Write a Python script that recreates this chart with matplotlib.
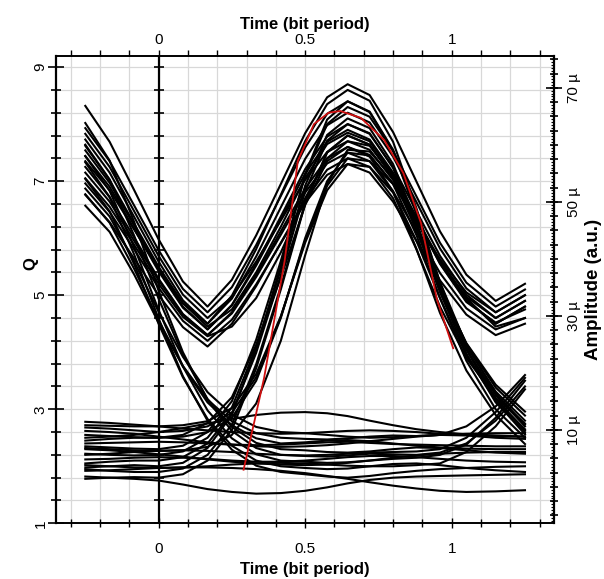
import numpy as np
import matplotlib
import matplotlib.pyplot as plt
import matplotlib.ticker as mticker
import matplotlib.transforms as mtransforms
matplotlib.use('Agg')

plt.rcParams['font.family'] = ['Liberation Sans', 'DejaVu Sans']

# sample times (bit period), shared by every black trace
t_grid = [-0.25, -0.167, -0.083, 0.0, 0.083, 0.167, 0.25, 0.333, 0.417, 0.5,
          0.575, 0.645, 0.72, 0.80, 0.88, 0.96, 1.05, 1.15, 1.25]

ones_111 = [
    [8.32, 7.69, 6.84, 5.98, 5.24, 4.80, 5.27, 6.05, 6.95, 7.84, 8.47, 8.70, 8.51, 7.86, 6.99, 6.12, 5.36, 4.90, 5.20],
    [7.73, 7.15, 6.37, 5.59, 4.91, 4.50, 4.94, 5.68, 6.54, 7.39, 7.98, 8.20, 8.03, 7.43, 6.63, 5.82, 5.12, 4.70, 5.00],
    [7.44, 6.90, 6.16, 5.42, 4.78, 4.40, 4.82, 5.52, 6.33, 7.13, 7.69, 7.90, 7.73, 7.15, 6.37, 5.59, 4.91, 4.50, 4.80],
    [7.15, 6.64, 5.95, 5.26, 4.66, 4.30, 4.68, 5.32, 6.06, 6.80, 7.31, 7.50, 7.35, 6.82, 6.11, 5.39, 4.77, 4.40, 4.60],
    [6.96, 6.46, 5.80, 5.13, 4.55, 4.20, 4.57, 5.19, 5.91, 6.62, 7.11, 7.30, 7.15, 6.64, 5.95, 5.26, 4.66, 4.30, 4.50],
    [7.83, 7.25, 6.47, 5.69, 5.01, 4.60, 4.97, 5.59, 6.31, 7.02, 7.51, 7.70, 7.55, 7.02, 6.31, 5.59, 4.97, 4.60, 4.90],
    [7.62, 7.02, 6.25, 5.50, 4.86, 4.45, 4.75, 5.40, 6.20, 7.05, 7.65, 7.85, 7.70, 7.12, 6.34, 5.55, 4.88, 4.52, 4.75],
]
ones_110 = [
    [7.93, 7.35, 6.57, 5.79, 5.11, 4.70, 5.14, 5.88, 6.74, 7.59, 8.18, 8.40, 8.21, 7.53, 6.42, 5.18, 4.06, 3.19, 2.63],
    [7.54, 6.97, 6.22, 5.46, 4.80, 4.40, 4.83, 5.55, 6.38, 7.21, 7.78, 8.00, 7.84, 7.23, 6.24, 5.14, 4.15, 3.38, 2.89],
    [7.25, 6.72, 6.01, 5.29, 4.67, 4.30, 4.70, 5.36, 6.12, 6.87, 7.40, 7.60, 7.43, 6.82, 5.81, 4.69, 3.68, 2.90, 2.39],
    [6.76, 6.28, 5.64, 5.00, 4.44, 4.10, 4.50, 5.16, 5.92, 6.67, 7.20, 7.40, 7.25, 6.70, 5.80, 4.80, 3.90, 3.20, 2.75],
    [7.35, 6.84, 6.15, 5.46, 4.86, 4.50, 4.99, 5.81, 6.76, 7.70, 8.35, 8.60, 8.41, 7.69, 6.52, 5.22, 4.05, 3.14, 2.56],
    [7.05, 6.55, 5.88, 5.20, 4.62, 4.28, 4.45, 4.95, 5.75, 6.70, 7.40, 7.70, 7.62, 7.10, 6.20, 5.10, 4.05, 3.25, 2.70],
]
ones_10x = [
    [7.64, 7.03, 6.04, 4.94, 3.95, 3.18, 2.69, 2.41, 2.30, 2.28, 2.25, 2.24, 2.26, 2.30, 2.33, 2.32, 2.28, 2.24, 2.22],
    [7.04, 6.47, 5.54, 4.50, 3.56, 2.83, 2.36, 2.10, 2.00, 1.97, 1.95, 1.96, 2.00, 2.04, 2.05, 2.02, 1.97, 1.93, 1.90],
    [6.57, 6.11, 5.36, 4.52, 3.76, 3.17, 2.79, 2.58, 2.50, 2.48, 2.47, 2.49, 2.52, 2.54, 2.53, 2.55, 2.70, 3.05, 3.60],
    [8.02, 7.36, 6.28, 5.08, 4.00, 3.16, 2.62, 2.32, 2.20, 2.18, 2.17, 2.19, 2.22, 2.21, 2.20, 2.24, 2.40, 2.80, 3.40],
    [6.87, 6.38, 5.59, 4.71, 3.92, 3.30, 2.91, 2.69, 2.60, 2.58, 2.55, 2.52, 2.50, 2.51, 2.53, 2.55, 2.54, 2.50, 2.48],
    [7.33, 6.72, 5.71, 4.59, 3.58, 2.80, 2.29, 2.01, 1.90, 1.86, 1.82, 1.80, 1.83, 1.88, 1.92, 1.95, 1.97, 1.99, 2.00],
    [6.77, 6.27, 5.46, 4.56, 3.75, 3.12, 2.72, 2.49, 2.40, 2.42, 2.45, 2.46, 2.44, 2.40, 2.36, 2.33, 2.31, 2.30, 2.30],
    [7.44, 6.83, 5.84, 4.74, 3.75, 2.98, 2.49, 2.21, 2.10, 2.08, 2.06, 2.07, 2.10, 2.13, 2.15, 2.20, 2.38, 2.85, 3.50],
]

# traces that start on a "0"
zeros_011 = [
    [2.35, 2.33, 2.31, 2.30, 2.36, 2.60, 3.14, 4.22, 5.60, 7.10, 8.00, 8.30, 8.13, 7.53, 6.73, 5.92, 5.22, 4.80, 5.10],
    [1.95, 1.92, 1.90, 1.90, 1.96, 2.20, 2.73, 3.79, 5.15, 6.62, 7.51, 7.80, 7.64, 7.07, 6.32, 5.56, 4.90, 4.50, 4.80],
    [2.68, 2.66, 2.63, 2.60, 2.62, 2.70, 2.94, 3.56, 4.62, 5.96, 6.92, 7.40, 7.35, 6.95, 6.30, 5.60, 4.95, 4.45, 4.60],
    [2.05, 2.08, 2.10, 2.10, 2.16, 2.40, 2.93, 3.99, 5.35, 6.82, 7.71, 8.00, 7.83, 7.25, 6.47, 5.69, 5.01, 4.60, 4.90],
    [2.45, 2.48, 2.50, 2.50, 2.55, 2.76, 3.21, 4.13, 5.31, 6.58, 7.35, 7.60, 7.46, 6.96, 6.30, 5.63, 5.05, 4.70, 5.00],
]
zeros_010 = [
    [2.22, 2.20, 2.19, 2.20, 2.26, 2.50, 3.03, 4.09, 5.45, 6.92, 7.81, 8.10, 7.93, 7.30, 6.28, 5.14, 4.11, 3.31, 2.80],
    [2.55, 2.53, 2.51, 2.50, 2.52, 2.60, 2.85, 3.50, 4.60, 6.00, 7.00, 7.50, 7.45, 6.95, 6.05, 4.95, 3.85, 3.00, 2.50],
    [1.78, 1.80, 1.81, 1.80, 1.86, 2.10, 2.64, 3.72, 5.10, 6.60, 7.50, 7.80, 7.64, 7.07, 6.14, 5.10, 4.16, 3.43, 2.96],
    [2.72, 2.71, 2.70, 2.70, 2.72, 2.79, 3.02, 3.62, 4.63, 5.92, 6.84, 7.30, 7.25, 6.80, 5.95, 4.95, 3.95, 3.15, 2.65],
    [1.98, 2.00, 2.02, 2.00, 2.06, 2.32, 2.90, 4.05, 5.52, 7.12, 8.08, 8.40, 8.22, 7.55, 6.45, 5.23, 4.13, 3.28, 2.73],
    [2.32, 2.30, 2.28, 2.27, 2.28, 2.34, 2.55, 3.10, 4.20, 5.70, 6.95, 7.55, 7.52, 7.05, 6.15, 5.05, 3.98, 3.12, 2.60],
]
zeros_00x = [
    [2.40, 2.41, 2.42, 2.43, 2.42, 2.40, 2.38, 2.37, 2.38, 2.40, 2.42, 2.43, 2.41, 2.39, 2.38, 2.37, 2.36, 2.35, 2.35],
    [2.02, 2.00, 1.98, 1.97, 1.98, 2.00, 2.03, 2.05, 2.06, 2.05, 2.03, 2.01, 2.00, 2.00, 2.02, 2.05, 2.25, 2.70, 3.35],
    [2.78, 2.76, 2.73, 2.70, 2.66, 2.63, 2.60, 2.58, 2.57, 2.58, 2.60, 2.62, 2.63, 2.62, 2.60, 2.57, 2.55, 2.53, 2.52],
    [1.82, 1.80, 1.78, 1.75, 1.68, 1.60, 1.55, 1.52, 1.53, 1.57, 1.63, 1.70, 1.76, 1.80, 1.82, 1.83, 1.84, 1.85, 1.86],
    [2.20, 2.22, 2.25, 2.27, 2.28, 2.27, 2.25, 2.22, 2.20, 2.19, 2.20, 2.22, 2.24, 2.25, 2.26, 2.30, 2.50, 2.95, 3.55],
    [2.62, 2.60, 2.57, 2.52, 2.47, 2.42, 2.38, 2.35, 2.34, 2.35, 2.37, 2.40, 2.44, 2.48, 2.52, 2.55, 2.57, 2.58, 2.58],
    [1.92, 1.93, 1.95, 1.97, 1.98, 1.98, 1.97, 1.95, 1.92, 1.88, 1.83, 1.78, 1.72, 1.66, 1.61, 1.57, 1.55, 1.56, 1.58],
    [2.50, 2.52, 2.55, 2.60, 2.67, 2.75, 2.83, 2.90, 2.94, 2.95, 2.93, 2.88, 2.80, 2.72, 2.65, 2.60, 2.56, 2.54, 2.52],
    [2.12, 2.13, 2.15, 2.16, 2.15, 2.13, 2.10, 2.08, 2.08, 2.10, 2.13, 2.16, 2.18, 2.18, 2.16, 2.13, 2.10, 2.08, 2.07],
    [2.30, 2.28, 2.25, 2.21, 2.17, 2.12, 2.08, 2.05, 2.03, 2.02, 2.03, 2.06, 2.10, 2.15, 2.19, 2.22, 2.24, 2.25, 2.25],
]

# red Q-factor curve
red_t = [0.29, 0.36, 0.43, 0.475, 0.53, 0.58, 0.62, 0.69, 0.77, 0.835, 0.895, 0.95, 1.005]
red_q = [1.94, 3.55, 5.6, 7.35, 8.0, 8.2, 8.23, 8.11, 7.72, 7.14, 6.27, 4.92, 4.07]

# axis ticks
q_major = [1, 3, 5, 7, 9]
q_minor = np.arange(1, 9.01, 0.4)
t_major = [0, 0.5, 1]
t_minor = np.arange(-0.3, 1.31, 0.1)
amp_major = [10, 30, 50, 70]
amp_mid = np.arange(-5, 75.1, 2.5)
amp_fine = np.arange(-6, 75.6, 0.5)
# Q -> amplitude (micro) is linear: amp = 10*Q - 16.37
amp_lim = (10 * 1 - 16.37, 10 * 9.2 - 16.37)

fig = plt.figure(figsize=(6.04, 5.79), dpi=100)
ax = fig.add_axes([0.0927, 0.0962, 0.8250, 0.8076])
ax.set_xlim(-0.35, 1.35)
ax.set_ylim(1, 9.2)

grid_c = '#d8d8d8'
for x in t_minor:
    ax.axvline(x, color=grid_c, lw=0.9, zorder=0)
for y in q_minor:
    ax.axhline(y, color=grid_c, lw=0.9, zorder=0)

# inner axis at t = 0
ax.axvline(0, color='black', lw=1.6, zorder=1)
ax.plot([0] * len(q_minor), q_minor, ls='none', marker='_', ms=7, mew=1.2,
        color='black', zorder=1)

for fam in [ones_111, ones_110, ones_10x, zeros_011, zeros_010, zeros_00x]:
    for tr in fam:
        ax.plot(t_grid, tr, color='black', lw=1.5, zorder=2)

ax.plot(red_t, red_q, color='#d01010', lw=1.3, zorder=3)

# bottom axis (labels) and left axis
ax.xaxis.set_major_locator(mticker.FixedLocator(t_major))
ax.xaxis.set_minor_locator(mticker.FixedLocator(t_minor))
ax.xaxis.set_major_formatter(mticker.FuncFormatter(lambda v, p: '%g' % v))
ax.yaxis.set_major_locator(mticker.FixedLocator(q_major))
ax.yaxis.set_minor_locator(mticker.FixedLocator(q_minor))

ax.tick_params(axis='x', which='both', top=False, labeltop=False, bottom=True,
               labelbottom=True, direction='inout', width=1.0, labelsize=11)
ax.tick_params(axis='x', which='major', length=7, pad=10)
ax.tick_params(axis='x', which='minor', length=6)
ax.tick_params(axis='y', which='both', direction='inout', width=1.2, labelsize=11,
               right=False)
ax.tick_params(axis='y', which='major', length=12, pad=0)
ax.tick_params(axis='y', which='minor', length=7)
for lab in ax.get_yticklabels():
    lab.set_rotation(90)
    lab.set_va('center')

ax.spines['left'].set_linewidth(1.6)
ax.spines['top'].set_linewidth(1.4)
ax.spines['bottom'].set_linewidth(1.4)
ax.spines['bottom'].set_linestyle((0, (1, 1)))
ax.spines['right'].set_linewidth(1.6)

ax.set_xlabel('Time (bit period)', fontsize=12, fontweight='bold', labelpad=4.5)
ax.set_ylabel('Q', fontsize=12, fontweight='bold')
ax.yaxis.set_label_coords(-0.036, 0.555)

# top axis
top = ax.secondary_xaxis('top')
top.set_xticks(t_major)
top.xaxis.set_major_formatter(mticker.FuncFormatter(lambda v, p: '%g' % v))
top.xaxis.set_minor_locator(mticker.FixedLocator(t_minor))
top.tick_params(axis='x', which='both', direction='out', length=4, width=1.0,
                labelsize=11, pad=2)
top.spines['top'].set_visible(False)
top.set_xlabel('Time (bit period)', fontsize=12, fontweight='bold', labelpad=3)

# right amplitude axis
ax2 = ax.twinx()
ax2.set_ylim(*amp_lim)
ax2.yaxis.set_major_locator(mticker.FixedLocator(amp_major))
ax2.yaxis.set_minor_locator(mticker.FixedLocator(amp_fine))
ax2.yaxis.set_major_formatter(mticker.FuncFormatter(lambda v, p: '%d µ' % v))
ax2.tick_params(axis='y', which='major', direction='inout', length=12, width=1.2,
                labelsize=11, pad=3)
ax2.tick_params(axis='y', which='minor', direction='in', length=2.5, width=0.8)
for lab in ax2.get_yticklabels():
    lab.set_rotation(90)
    lab.set_va('center')
trans = mtransforms.blended_transform_factory(ax2.transAxes, ax2.transData)
ax2.plot([1.0] * len(amp_mid), amp_mid, ls='none', marker='_', ms=6, mew=1.2,
         color='black', transform=trans, clip_on=False)
ax2.set_ylabel('Amplitude (a.u.)', fontsize=13.5, fontweight='bold', rotation=90,
               labelpad=3)
for s in ax2.spines.values():
    s.set_visible(False)

fig.savefig('out.png', dpi=100)
